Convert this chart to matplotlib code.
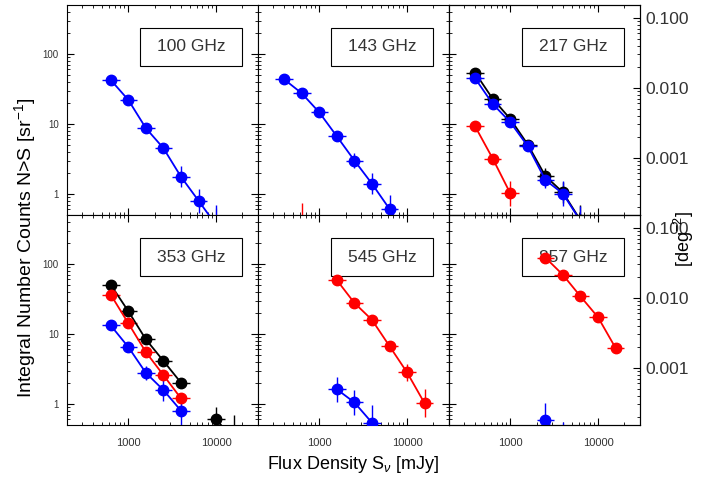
import matplotlib
matplotlib.use('Agg')
import matplotlib.pyplot as plt
import numpy as np
from matplotlib.patches import Rectangle
from matplotlib.ticker import FixedLocator, FormatStrFormatter, LogLocator, NullFormatter

plt.rcParams['font.family'] = ['Liberation Sans', 'DejaVu Sans']
plt.rcParams['mathtext.fontset'] = 'custom'
plt.rcParams['mathtext.rm'] = 'Liberation Sans'
plt.rcParams['mathtext.it'] = 'Liberation Sans:italic'

SR_PER_DEG2 = 3282.8

# panel labels
freqs = ['100 GHz', '143 GHz', '217 GHz', '353 GHz', '545 GHz', '857 GHz']

# flux density bins [mJy], counts N>S [sr^-1], error in dex
x100_blue = [631, 1000, 1585, 2512, 3981, 6310, 10000]
y100_blue = [42.4, 22.0, 8.7, 4.5, 1.76, 0.80, 0.36]
e100_blue = [0.03, 0.03, 0.04, 0.07, 0.15, 0.17, 0.28]

x143_blue = [398, 631, 1000, 1585, 2512, 3981, 6310, 10000]
y143_blue = [43.3, 27.4, 14.6, 6.65, 3.0, 1.40, 0.61, 0.25]
e143_blue = [0.02, 0.03, 0.04, 0.07, 0.11, 0.15, 0.2, 0.3]
x143_red = [631]
y143_red = [0.35]
e143_red = [0.33]

x217_black = [398, 631, 1000, 1585, 2512, 3981, 6310]
y217_black = [53.8, 22.8, 11.8, 5.06, 1.80, 1.05, 0.42]
e217_black = [0.02, 0.03, 0.04, 0.06, 0.12, 0.15, 0.22]
x217_blue = [398, 631, 1000, 1585, 2512, 3981, 6310]
y217_blue = [44.7, 19.3, 10.6, 4.8, 1.58, 1.01, 0.41]
e217_blue = [0.02, 0.03, 0.04, 0.07, 0.12, 0.18, 0.22]
x217_red = [398, 631, 1000]
y217_red = [9.2, 3.2, 1.02]
e217_red = [0.03, 0.07, 0.18]

x353_black = [631, 1000, 1585, 2512, 3981, 6310, 10000, 15850]
y353_black = [50.4, 21.1, 8.36, 4.12, 2.01, np.nan, 0.61, 0.3]
e353_black = [0.02, 0.03, 0.04, 0.05, 0.07, 0.0, 0.17, 0.37]
x353_red = [631, 1000, 1585, 2512, 3981]
y353_red = [36.3, 14.2, 5.5, 2.58, 1.2]
e353_red = [0.02, 0.03, 0.05, 0.07, 0.08]
x353_blue = [631, 1000, 1585, 2512, 3981]
y353_blue = [13.2, 6.5, 2.78, 1.58, 0.80]
e353_blue = [0.03, 0.06, 0.1, 0.15, 0.2]

x545_red = [1585, 2512, 3981, 6310, 10000, 15850]
y545_red = [58.7, 27.7, 15.9, 6.7, 2.82, 1.02]
e545_red = [0.02, 0.03, 0.04, 0.06, 0.12, 0.2]
x545_blue = [1585, 2512, 3981]
y545_blue = [1.62, 1.05, 0.54]
e545_blue = [0.18, 0.18, 0.25]

x857_red = [2512, 3981, 6310, 10000, 15850]
y857_red = [123, 69.8, 34.4, 17.3, 6.3]
e857_red = [0.02, 0.02, 0.03, 0.04, 0.07]
x857_blue = [2512, 3981]
y857_blue = [0.59, 0.3]
e857_blue = [0.24, 0.27]

panels = [
    [(x100_blue, y100_blue, e100_blue, 'blue')],
    [(x143_red, y143_red, e143_red, 'red'), (x143_blue, y143_blue, e143_blue, 'blue')],
    [(x217_red, y217_red, e217_red, 'red'), (x217_black, y217_black, e217_black, 'black'),
     (x217_blue, y217_blue, e217_blue, 'blue')],
    [(x353_black, y353_black, e353_black, 'black'), (x353_red, y353_red, e353_red, 'red'),
     (x353_blue, y353_blue, e353_blue, 'blue')],
    [(x545_blue, y545_blue, e545_blue, 'blue'), (x545_red, y545_red, e545_red, 'red')],
    [(x857_blue, y857_blue, e857_blue, 'blue'), (x857_red, y857_red, e857_red, 'red')],
]

fig, axes = plt.subplots(2, 3, sharex=True, sharey=True, figsize=(7.11, 4.79), dpi=100)
fig.subplots_adjust(left=0.0942, right=0.900, top=0.9896, bottom=0.1127, wspace=0, hspace=0)

for i, ax in enumerate(axes.flat):
    ax.set_xscale('log')
    ax.set_yscale('log')
    ax.set_xlim(200, 30000)
    ax.set_ylim(0.5, 500)

    for x, y, e, c in panels[i]:
        x = np.array(x, dtype=float)
        y = np.array(y, dtype=float)
        e = np.array(e)
        xerr = [x - x / 10 ** 0.1, x * 10 ** 0.1 - x]
        yerr = [y - y / 10 ** e, y * 10 ** e - y]
        ax.errorbar(x, y, xerr=xerr, yerr=yerr, fmt='o-', color=c, ms=7.5, lw=1.3,
                    elinewidth=1.0, capsize=0, zorder=3)

    ax.add_patch(Rectangle((0.384, 0.71), 0.532, 0.179, transform=ax.transAxes,
                           fc='white', ec='black', lw=0.8, zorder=1))
    ax.text(0.65, 0.80, freqs[i], transform=ax.transAxes, ha='center', va='center',
            fontsize=12.5, color='#333333', zorder=2)

    right = (i % 3 == 2)
    ax.tick_params(which='both', direction='in', top=True, right=not right)
    ax.tick_params(which='major', length=5, width=0.8)
    ax.tick_params(which='minor', length=2.5, width=0.6)
    ax.tick_params(axis='x', labelsize=8, pad=9, labelcolor='#333333')
    ax.tick_params(axis='y', labelsize=7, pad=6, labelcolor='#333333')
    ax.xaxis.set_major_locator(FixedLocator([1000, 10000]))
    ax.xaxis.set_major_formatter(FormatStrFormatter('%d'))
    ax.xaxis.set_minor_locator(LogLocator(base=10, subs=np.arange(2, 10)))
    ax.xaxis.set_minor_formatter(NullFormatter())
    ax.yaxis.set_major_locator(FixedLocator([1, 10, 100]))
    ax.yaxis.set_major_formatter(FormatStrFormatter('%d'))
    ax.yaxis.set_minor_locator(LogLocator(base=10, subs=np.arange(2, 10)))
    ax.yaxis.set_minor_formatter(NullFormatter())

    if right:
        ax2 = ax.twinx()
        ax2.set_yscale('log')
        ax2.set_ylim(0.5 / SR_PER_DEG2, 500 / SR_PER_DEG2)
        ax2.yaxis.set_major_locator(FixedLocator([0.001, 0.01, 0.1]))
        ax2.yaxis.set_major_formatter(FormatStrFormatter('%.3f'))
        ax2.yaxis.set_minor_locator(LogLocator(base=10, subs=np.arange(2, 10)))
        ax2.yaxis.set_minor_formatter(NullFormatter())
        ax2.tick_params(which='both', direction='in')
        ax2.tick_params(which='major', length=5, width=0.8, labelsize=12.5,
                        labelcolor='#333333', pad=4)
        ax2.tick_params(which='minor', length=2.5, width=0.6)

fig.text(0.035, 0.482, 'Integral Number Counts N>S [sr$^{-1}$]', rotation=90,
         ha='center', va='center', fontsize=14)
fig.text(0.497, 0.03, r'Flux Density S$_\nu$ [mJy]', ha='center', va='center', fontsize=13)
fig.text(0.962, 0.50, '[deg$^{-2}$]', rotation=90, ha='center', va='center', fontsize=13)

fig.savefig('out.png', dpi=100)
